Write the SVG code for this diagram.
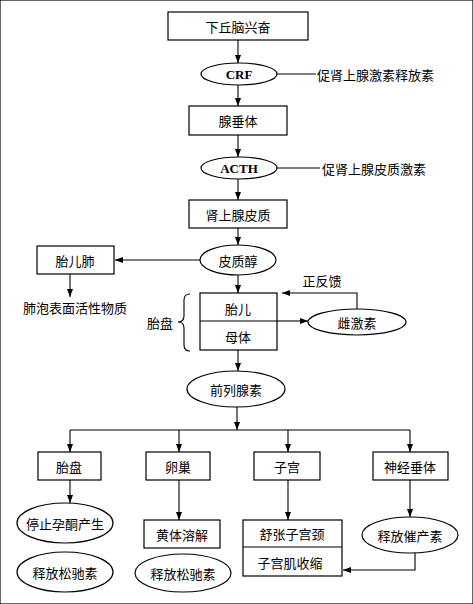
<svg xmlns="http://www.w3.org/2000/svg" width="473" height="604" viewBox="0 0 473 604">
<defs>
<marker id="ah" markerWidth="8" markerHeight="6" refX="8" refY="3" orient="auto" markerUnits="userSpaceOnUse">
<path d="M0,0 L8,3 L0,6 z" fill="#000"/>
</marker>
<style>
rect, ellipse { fill: #fff; stroke: #000; stroke-width: 1.2; }
.c line, .c polyline, .c path { stroke: #000; stroke-width: 1.1; fill: none; }
.a { marker-end: url(#ah); }
text { font-family: "Noto Sans CJK SC", "Noto Sans CJK JP", sans-serif; font-size: 13px; fill: #000; text-anchor: middle; dominant-baseline: central; }
text.l { text-anchor: start; }
text.en { font-family: "Liberation Serif", serif; font-weight: bold; font-size: 13px; }
</style>
</defs>
<rect width="473" height="604" fill="#fff" stroke="none"/>
<g class="c" id="connectors">
<line class="a" x1="238" y1="40" x2="238" y2="63"/>
<line x1="277" y1="74" x2="316" y2="74"/>
<line class="a" x1="238" y1="85" x2="238" y2="106"/>
<line class="a" x1="238" y1="135" x2="238" y2="157"/>
<line x1="277" y1="168" x2="320" y2="168"/>
<line class="a" x1="238" y1="178" x2="238" y2="200"/>
<line class="a" x1="238" y1="228" x2="238" y2="245"/>
<line class="a" x1="200" y1="260" x2="115" y2="260"/>
<line class="a" x1="70" y1="274" x2="70" y2="297"/>
<line class="a" x1="238" y1="275" x2="238" y2="293"/>
<polyline class="a" points="357,310 357,293 282,293"/>
<line class="a" x1="277" y1="321" x2="308" y2="321"/>
<line class="a" x1="238" y1="350" x2="238" y2="371"/>
<line class="a" x1="237" y1="407" x2="237" y2="430"/>
<line x1="70" y1="430" x2="410" y2="430"/>
<line class="a" x1="70" y1="430" x2="70" y2="452"/>
<line class="a" x1="179" y1="430" x2="179" y2="452"/>
<line class="a" x1="288" y1="430" x2="288" y2="452"/>
<line class="a" x1="410" y1="430" x2="410" y2="452"/>
<line class="a" x1="70" y1="480" x2="70" y2="503"/>
<line class="a" x1="179" y1="480" x2="179" y2="520"/>
<line class="a" x1="288" y1="480" x2="288" y2="520"/>
<line class="a" x1="410" y1="480" x2="410" y2="517"/>
<polyline class="a" points="415,552 415,570 343,570"/>
<path d="M190,294 Q184,294 184,300 L184,316 Q184,322 178,322 Q184,322 184,328 L184,345 Q184,351 190,351"/>
</g>
<g id="n1"><rect x="168" y="12" width="140" height="28"/><text x="238" y="26">下丘脑兴奋</text></g>
<g id="n2"><ellipse cx="239" cy="74" rx="38" ry="11"/><text class="en" x="239" y="74">CRF</text></g>
<g id="n2l"><text class="l" x="317" y="74">促肾上腺激素释放素</text></g>
<g id="n3"><rect x="189" y="106" width="98" height="29"/><text x="238" y="120">腺垂体</text></g>
<g id="n4"><ellipse cx="239" cy="168" rx="38" ry="11"/><text class="en" x="239" y="168">ACTH</text></g>
<g id="n4l"><text class="l" x="322" y="168">促肾上腺皮质激素</text></g>
<g id="n5"><rect x="189" y="200" width="98" height="28"/><text x="238" y="214">肾上腺皮质</text></g>
<g id="n6"><ellipse cx="238" cy="260" rx="38" ry="15"/><text x="238" y="260">皮质醇</text></g>
<g id="n7"><rect x="37" y="246" width="77" height="28"/><text x="75" y="260">胎儿肺</text></g>
<g id="n8"><text x="75" y="307">肺泡表面活性物质</text></g>
<g id="n9"><rect x="200" y="293" width="77" height="57"/><line x1="200" y1="321" x2="277" y2="321" stroke="#000" stroke-width="1.2"/><text x="238" y="308">胎儿</text><text x="238" y="336">母体</text></g>
<g id="n9l"><text x="160" y="322">胎盘</text></g>
<g id="n10"><ellipse cx="357" cy="322" rx="49" ry="13"/><text x="357" y="322">雌激素</text></g>
<g id="n10l"><text x="322" y="280">正反馈</text></g>
<g id="n11"><ellipse cx="236" cy="389" rx="49" ry="18"/><text x="236" y="389">前列腺素</text></g>
<g id="n12"><rect x="38" y="452" width="63" height="28"/><text x="69" y="466">胎盘</text></g>
<g id="n13"><rect x="146" y="452" width="64" height="28"/><text x="178" y="466">卵巢</text></g>
<g id="n14"><rect x="254" y="452" width="66" height="28"/><text x="287" y="466">子宫</text></g>
<g id="n15"><rect x="373" y="452" width="75" height="28"/><text x="410" y="466">神经垂体</text></g>
<g id="n16"><ellipse cx="65" cy="523" rx="48" ry="20"/><text x="65" y="523">停止孕酮产生</text></g>
<g id="n17"><ellipse cx="65" cy="572" rx="48" ry="20"/><text x="65" y="572">释放松驰素</text></g>
<g id="n18"><rect x="144" y="520" width="76" height="28"/><text x="182" y="534">黄体溶解</text></g>
<g id="n19"><ellipse cx="183" cy="573" rx="48" ry="19"/><text x="183" y="573">释放松驰素</text></g>
<g id="n20"><rect x="243" y="520" width="99" height="56"/><line x1="243" y1="547" x2="342" y2="547" stroke="#000" stroke-width="1.2"/><text x="292" y="533">舒张子宫颈</text><text x="290" y="562">子宫肌收缩</text></g>
<g id="n21"><ellipse cx="410" cy="535" rx="48" ry="18"/><text x="410" y="535">释放催产素</text></g>
</svg>
